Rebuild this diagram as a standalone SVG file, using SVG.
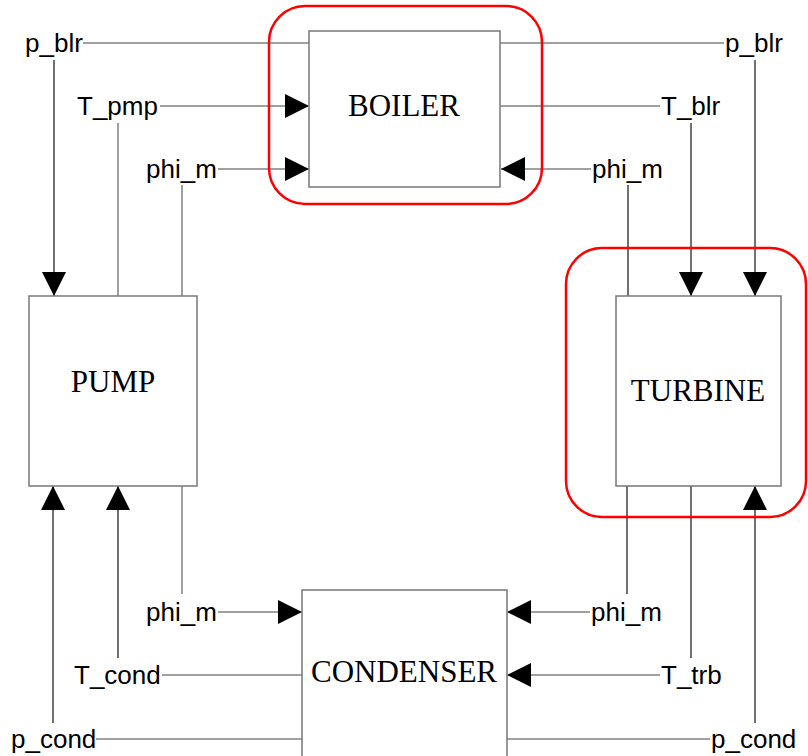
<svg xmlns="http://www.w3.org/2000/svg" width="808" height="756" viewBox="0 0 808 756">
<style>
.box{fill:#fff;stroke:#777;stroke-width:1.5}
.hl{fill:none;stroke:#808080;stroke-width:1.5}
.vl{fill:none;stroke:#111;stroke-width:1.2}
.lbl{font-family:"Liberation Sans",Arial,sans-serif;font-size:26px;fill:#000}
.ttl{font-family:"Liberation Serif","Times New Roman",serif;font-size:31px;fill:#000;text-anchor:middle}
.hl2{fill:none;stroke:#ff0000;stroke-width:2.5}
</style>
<defs>
<marker id="arr" markerWidth="24" markerHeight="24" refX="24" refY="12" orient="auto" markerUnits="userSpaceOnUse">
<path d="M0,0 L24,12 L0,24 z" fill="#000"/>
</marker>
</defs>
<rect width="808" height="756" fill="#fff"/>
<g id="connectors">
<line class="hl" x1="83" y1="43" x2="309" y2="43"/>
<line class="hl" x1="500" y1="43" x2="724" y2="43"/>
<line class="hl" x1="500" y1="106" x2="660" y2="106"/>
<line class="hl" x1="162" y1="675" x2="302" y2="675"/>
<line class="hl" x1="96" y1="739" x2="302" y2="739"/>
<line class="hl" x1="507" y1="739" x2="710" y2="739"/>
<line class="hl" x1="160" y1="106" x2="309" y2="106" marker-end="url(#arr)"/>
<line class="hl" x1="218" y1="169" x2="309" y2="169" marker-end="url(#arr)"/>
<line class="hl" x1="591" y1="169" x2="501" y2="169" marker-end="url(#arr)"/>
<line class="hl" x1="218" y1="612" x2="302" y2="612" marker-end="url(#arr)"/>
<line class="hl" x1="590" y1="612" x2="507" y2="612" marker-end="url(#arr)"/>
<line class="hl" x1="660" y1="675" x2="507" y2="675" marker-end="url(#arr)"/>
<line class="vl" x1="54" y1="60" x2="54" y2="296" marker-end="url(#arr)"/>
<line class="hl" x1="118" y1="123" x2="118" y2="296"/>
<line class="hl" x1="182" y1="185" x2="182" y2="296"/>
<line class="vl" x1="755" y1="60" x2="755" y2="296" marker-end="url(#arr)"/>
<line class="vl" x1="691" y1="123" x2="691" y2="296" marker-end="url(#arr)"/>
<line class="vl" x1="628" y1="185" x2="628" y2="296"/>
<line class="vl" x1="53" y1="723" x2="53" y2="486" marker-end="url(#arr)"/>
<line class="vl" x1="118" y1="658" x2="118" y2="486" marker-end="url(#arr)"/>
<line class="hl" x1="182" y1="486" x2="182" y2="594"/>
<line class="vl" x1="627" y1="486" x2="627" y2="594"/>
<line class="vl" x1="691" y1="486" x2="691" y2="658"/>
<line class="vl" x1="755" y1="723" x2="755" y2="486" marker-end="url(#arr)"/>
</g>
<g id="boiler">
<rect class="box" x="309" y="31" width="191" height="156"/>
<text class="ttl" x="404" y="116">BOILER</text>
</g>
<g id="pump">
<rect class="box" x="29" y="296" width="168" height="190"/>
<text class="ttl" x="113" y="392">PUMP</text>
</g>
<g id="turbine">
<rect class="box" x="616" y="296" width="165" height="190"/>
<text class="ttl" x="698" y="401">TURBINE</text>
</g>
<g id="condenser">
<rect class="box" x="302" y="590" width="205" height="180"/>
<text class="ttl" x="404" y="682">CONDENSER</text>
</g>
<g id="highlights">
<rect class="hl2" x="269" y="6" width="273" height="198" rx="36"/>
<rect class="hl2" x="566" y="248" width="240" height="269" rx="36"/>
</g>
<g id="labels">
<text class="lbl" x="25" y="52">p_blr</text>
<text class="lbl" x="77" y="115">T_pmp</text>
<text class="lbl" x="146" y="178">phi_m</text>
<text class="lbl" x="725" y="52">p_blr</text>
<text class="lbl" x="661" y="115">T_blr</text>
<text class="lbl" x="592" y="178">phi_m</text>
<text class="lbl" x="146" y="621">phi_m</text>
<text class="lbl" x="74" y="684">T_cond</text>
<text class="lbl" x="11" y="748">p_cond</text>
<text class="lbl" x="591" y="621">phi_m</text>
<text class="lbl" x="661" y="684">T_trb</text>
<text class="lbl" x="711" y="748">p_cond</text>
</g>
</svg>
